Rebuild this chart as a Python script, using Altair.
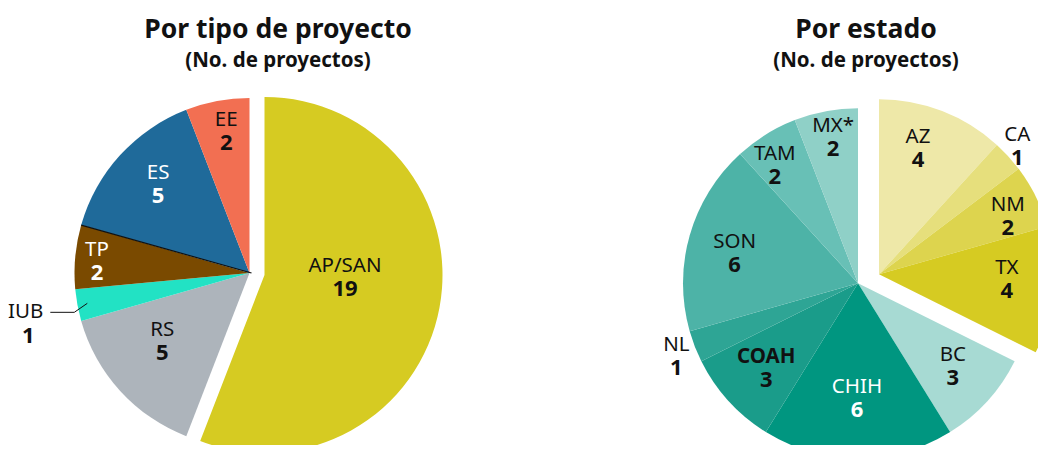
import math
import altair as alt
import pandas as pd

# ---------------- data ----------------
tipo_labels = ["AP/SAN", "RS", "IUB", "TP", "ES", "EE"]
tipo_values = [19, 5, 1, 2, 5, 2]
tipo_colors = ["#d6cb22", "#adb4bb", "#22e2c4", "#7a4a00", "#1f6a9a", "#f26f52"]
tipo_exploded = ["AP/SAN"]

estado_labels = ["AZ", "CA", "NM", "TX", "BC", "CHIH", "COAH", "NL", "SON", "TAM", "MX*"]
estado_values = [4, 1, 2, 4, 3, 6, 3, 1, 6, 2, 2]
estado_colors = ["#eee8a8", "#e6df7c", "#ddd44e", "#d6cb22", "#a7dad3", "#009680",
                 "#1a9c8a", "#2ea595", "#4db3a7", "#68c0b6", "#8fd0c7"]
estado_exploded = ["AZ", "CA", "NM", "TX"]

titles = ["Por tipo de proyecto", "Por estado"]
subtitle = "(No. de proyectos)"

# ---------------- style / layout ----------------
WHITE_LABELS = ["ES", "TP", "CHIH"]
BOLD_NAMES = ["COAH"]
LEADER_LABELS = ["IUB"]
DARK_EDGE = ["TP"]          # slice whose leading edge shows a thin dark line
# label placement: (radius in px, angular nudge in degrees from the slice's mid-angle)
LABEL_POS = {"AP/SAN": (80.5, -8.8), "RS": (111, 4.1), "IUB": (227, 0), "TP": (153, -0.8),
             "ES": (127, 1.6), "EE": (143, 1.2),
             "AZ": (132, -4.0), "CA": (188, -0.3), "NM": (141, 2.4), "TX": (128, -3.0),
             "BC": (126, -1.2), "CHIH": (115, 0.5), "COAH": (125, -0.4), "NL": (196, -0.9),
             "SON": (127, -2.3), "TAM": (144, -3.5), "MX*": (148, 0.9)}
PIES = {
    "tipo": dict(cx=241.5, cy=265, r=175, r_exp=178, ox=15, oy=2, tx=270),
    "estado": dict(cx=850, cy=275.3, r=175, r_exp=175, ox=21, oy=-9, tx=858),
}
FONT = "Noto Sans"
NAME_SIZE = 20.5
NUM_SIZE = 22
W, H = 1030, 437

rows = []
for pie, labs, vals, cols, exp in [
    ("tipo", tipo_labels, tipo_values, tipo_colors, tipo_exploded),
    ("estado", estado_labels, estado_values, estado_colors, estado_exploded),
]:
    for i, (l, v, c) in enumerate(zip(labs, vals, cols)):
        rows.append(dict(pie=pie, order=i, label=l, value=v, fill=c,
                         tc="#ffffff" if l in WHITE_LABELS else "#111111",
                         nb=l in BOLD_NAMES, exploded=l in exp,
                         leader=l in LEADER_LABELS, edge=l in DARK_EDGE,
                         lr=LABEL_POS[l][0], lshift=LABEL_POS[l][1] / 360.0))
df = pd.DataFrame(rows)

base = (
    alt.Chart(df)
    .transform_joinaggregate(total="sum(value)", groupby=["pie"])
    .transform_window(cum="sum(value)", sort=[alt.SortField("order")],
                      groupby=["pie"], frame=[None, 0])
    .transform_calculate(
        t0="(datum.cum - datum.value) / datum.total",
        t1="datum.cum / datum.total",
        tm="(datum.cum - datum.value / 2) / datum.total",
    )
    .transform_calculate(tl="datum.tm + datum.lshift")
)
theta_scale = alt.Scale(domain=[0, 1], range=[0, 2 * math.pi])

layers = []
for pie, p in PIES.items():
    for exp in (False, True):
        cx = p["cx"] + (p["ox"] if exp else 0)
        cy = p["cy"] + (p["oy"] if exp else 0)
        r = p["r_exp"] if exp else p["r"]
        sub = base.transform_filter(
            f"datum.pie == '{pie}' && datum.exploded == {'true' if exp else 'false'}")
        arcs = sub.mark_arc(strokeWidth=0).encode(
            x=alt.value(cx), y=alt.value(cy),
            theta=alt.Theta("t0:Q", scale=theta_scale, stack=None),
            theta2="t1:Q",
            radius=alt.value(r),
            color=alt.Color("fill:N", scale=None),
        )
        layers.append(arcs)
        lab = sub.transform_filter("!datum.leader")
        for bold, flt in ((False, "!datum.nb"), (True, "datum.nb")):
            names = lab.transform_filter(flt).mark_text(
                font=FONT, fontSize=NAME_SIZE, fontWeight="bold" if bold else "normal",
                baseline="middle", align="center", dy=-11.5,
            ).encode(
                x=alt.value(cx), y=alt.value(cy),
                theta=alt.Theta("tl:Q", scale=theta_scale, stack=None),
                radius=alt.Radius("lr:Q", scale=None),
                text="label:N",
                color=alt.Color("tc:N", scale=None),
            )
            layers.append(names)
        nums = lab.mark_text(
            font=FONT, fontSize=NUM_SIZE, fontWeight="bold",
            baseline="middle", align="center", dy=11.5,
        ).encode(
            x=alt.value(cx), y=alt.value(cy),
            theta=alt.Theta("tl:Q", scale=theta_scale, stack=None),
            radius=alt.Radius("lr:Q", scale=None),
            text="value:Q",
            color=alt.Color("tc:N", scale=None),
        )
        layers.append(nums)

    cx, cy = p["cx"], p["cy"]
    # thin dark edge line
    edge = base.transform_filter(f"datum.pie == '{pie}' && datum.edge").transform_calculate(
        bx=f"{cx} + {p['r']} * sin(2 * PI * datum.t1)",
        by=f"{cy} - {p['r']} * cos(2 * PI * datum.t1)",
        ox0=f"{cx + 2}", oy0=f"{cy}",
    )
    layers.append(edge.mark_rule(color="#111111", strokeWidth=1.2).encode(
        x=alt.X("bx:Q", scale=None), y=alt.Y("by:Q", scale=None),
        x2="ox0:Q", y2="oy0:Q"))

    # leader-line labels
    lead = base.transform_filter(f"datum.pie == '{pie}' && datum.leader").transform_calculate(
        ax=f"{cx} + 165 * sin(2 * PI * datum.tm)",
        ay=f"{cy} - 165 * cos(2 * PI * datum.tm)",
    ).transform_calculate(
        ex="datum.ax - 13", ey="datum.ay + 9",
    ).transform_calculate(
        fx="datum.ex - 24", nx="datum.ex - 31", vx="datum.ex - 46",
    )
    layers.append(lead.mark_rule(color="#111111", strokeWidth=1).encode(
        x=alt.X("ax:Q", scale=None), y=alt.Y("ay:Q", scale=None),
        x2="ex:Q", y2="ey:Q"))
    layers.append(lead.mark_rule(color="#111111", strokeWidth=1).encode(
        x=alt.X("ex:Q", scale=None), y=alt.Y("ey:Q", scale=None),
        x2="fx:Q", y2="ey:Q"))
    layers.append(lead.mark_text(font=FONT, fontSize=NAME_SIZE, align="right",
                                 baseline="middle", color="#111111").encode(
        x=alt.X("nx:Q", scale=None), y=alt.Y("ey:Q", scale=None), text="label:N"))
    layers.append(lead.mark_text(font=FONT, fontSize=NUM_SIZE, fontWeight="bold",
                                 align="center", baseline="middle", dy=24,
                                 color="#111111").encode(
        x=alt.X("vx:Q", scale=None), y=alt.Y("ey:Q", scale=None), text="value:Q"))

# titles
for (pie, p), t in zip(PIES.items(), titles):
    tdf = pd.DataFrame({"t": [t], "s": [subtitle]})
    layers.append(alt.Chart(tdf).mark_text(
        font=FONT, fontSize=26.5, fontWeight="bold", align="center",
        baseline="alphabetic", color="#111111").encode(
        x=alt.value(p["tx"]), y=alt.value(30), text="t:N"))
    layers.append(alt.Chart(tdf).mark_text(
        font=FONT, fontSize=20.5, fontWeight="bold", align="center",
        baseline="alphabetic", color="#111111").encode(
        x=alt.value(p["tx"]), y=alt.value(59), text="s:N"))

chart = alt.layer(*layers).properties(
    width=W, height=H, padding=0,
    autosize=alt.AutoSizeParams(type="none"),
).configure_view(stroke=None)

chart.save("out.html", embed_options={"renderer": "svg", "actions": False})
